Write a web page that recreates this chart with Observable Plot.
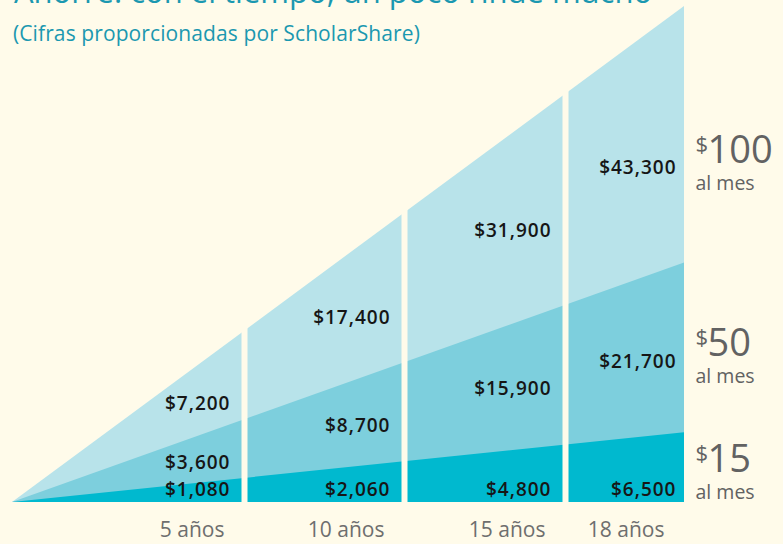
<!DOCTYPE html>
<html>
<head>
<meta charset="utf-8">
<script src="https://cdn.jsdelivr.net/npm/d3@7"></script>
<script src="https://cdn.jsdelivr.net/npm/@observablehq/plot@0.6"></script>
<style>
  html, body { margin: 0; padding: 0; background: #fffbea; }
  #wrap { position: relative; width: 783px; height: 544px; overflow: hidden; }
  #title { position: absolute; left: 14px; top: -24px; margin: 0; font-family: "Open Sans", sans-serif; font-weight: 400; font-size: 31px; color: #1b98b0; white-space: nowrap; line-height: 1; }
  #subtitle { position: absolute; left: 13px; top: 21px; margin: 0; font-family: "Open Sans", sans-serif; font-size: 21px; letter-spacing: 0.1px; color: #1b98b0; white-space: nowrap; line-height: 1.2; }
  svg { display: block; }
</style>
</head>
<body>
<div id="wrap">
  <div id="chart"></div>
  <div id="title">Ahorre: con el tiempo, un poco rinde mucho</div>
  <div id="subtitle">(Cifras proporcionadas por ScholarShare)</div>
</div>
<script>
// ---- data ----
const years = [5, 10, 15, 18];
const yearLabels = ["5 años", "10 años", "15 años", "18 años"];
const plans = ["$100", "$50", "$15"];           // monthly contribution
const planAmounts = ["100", "50", "15"];
const savings100 = [7200, 17400, 31900, 43300];
const savings50 = [3600, 8700, 15900, 21700];
const savings15 = [1080, 2060, 4800, 6500];
// heights of the three wedges at 18 years, as drawn
const wedgeEnd = [43300, 20900, 6100];

// ---- layout ----
const bg = "#fffbea";
const colors = ["#b8e3ea", "#7dcfdd", "#00b9cf"];
const xDomain = [0, 5, 10, 15, 18];
const xRange = [12, 244, 404, 565, 684];
const sx = d3.scaleLinear(xDomain, xRange);
const frac = t => (sx(t) - sx(0)) / (sx(18) - sx(0));
const yMax = 43300;
const perPx = yMax / 496;
const sideFrac = [0.39, 0.45, 0.43];

const wedges = wedgeEnd.flatMap((end, i) => [
  {plan: plans[i], x: 0, y: 0, order: i},
  {plan: plans[i], x: 18, y: end, order: i}
]);

const allSavings = [savings100, savings50, savings15];
const labels = [];
years.forEach((t, j) => {
  const topEdge = wedgeEnd[0] * frac(t);
  const midEdge = wedgeEnd[1] * frac(t);
  labels.push({x: t, y: 0.728 * topEdge - 26 * perPx, text: allSavings[0][j]});
  labels.push({x: t, y: 0.641 * midEdge - 13 * perPx, text: allSavings[1][j]});
  labels.push({x: t, y: 13 * perPx, text: allSavings[2][j]});
});

const sideLabels = wedgeEnd.map((end, i) => {
  const lower = i < 2 ? wedgeEnd[i + 1] : 0;
  return {x: 18, y: lower + sideFrac[i] * (end - lower), amount: planAmounts[i]};
});

const fmt = d => "$" + d3.format(",")(d);
const font = "Open Sans, sans-serif";
const valueText = {x: "x", y: "y", text: d => fmt(d.text), textAnchor: "end", fontSize: 19, fontWeight: 600, fill: "#161616"};

const chart = Plot.plot({
  width: 783,
  height: 544,
  marginLeft: 12,
  marginRight: 99,
  marginTop: 6,
  marginBottom: 42,
  style: {background: bg, fontFamily: font},
  x: {type: "linear", domain: xDomain, range: xRange, axis: null},
  y: {domain: [0, yMax], range: [502, 6], axis: null},
  marks: [
    ...wedgeEnd.map((end, i) => Plot.areaY(wedges.filter(d => d.order === i), {x: "x", y: "y", fill: colors[i]})),
    Plot.ruleX([5, 10, 15], {stroke: bg, strokeWidth: 6}),
    Plot.text(labels.filter(d => d.x < 18), {...valueText, dx: -14}),
    Plot.text(labels.filter(d => d.x === 18), {...valueText, dx: -8}),
    Plot.text(sideLabels, {x: "x", y: "y", text: "amount", textAnchor: "start", dx: 23, fontSize: 38, lineAnchor: "bottom", fill: "#626262"}),
    Plot.text(sideLabels, {x: "x", y: "y", text: () => "$", textAnchor: "start", dx: 11, dy: -11, fontSize: 22, lineAnchor: "bottom", fill: "#626262"}),
    Plot.text(sideLabels, {x: "x", y: "y", text: () => "al mes", textAnchor: "start", dx: 11, dy: 27, fontSize: 19.5, lineAnchor: "bottom", fill: "#626262"}),
    Plot.axisX(years, {tickSize: 0, tickPadding: 20, label: null, tickFormat: (d) => yearLabels[years.indexOf(d)], textAnchor: "end", dx: -20, fontSize: 21, fill: "#6e6e6e", fontFamily: font})
  ]
});
d3.select(chart).selectAll("text")
  .filter(function() { return /^\$\d{1,2},\d{3}$/.test(this.textContent); })
  .attr("letter-spacing", "1px");
document.getElementById("chart").appendChild(chart);
</script>
</body>
</html>
